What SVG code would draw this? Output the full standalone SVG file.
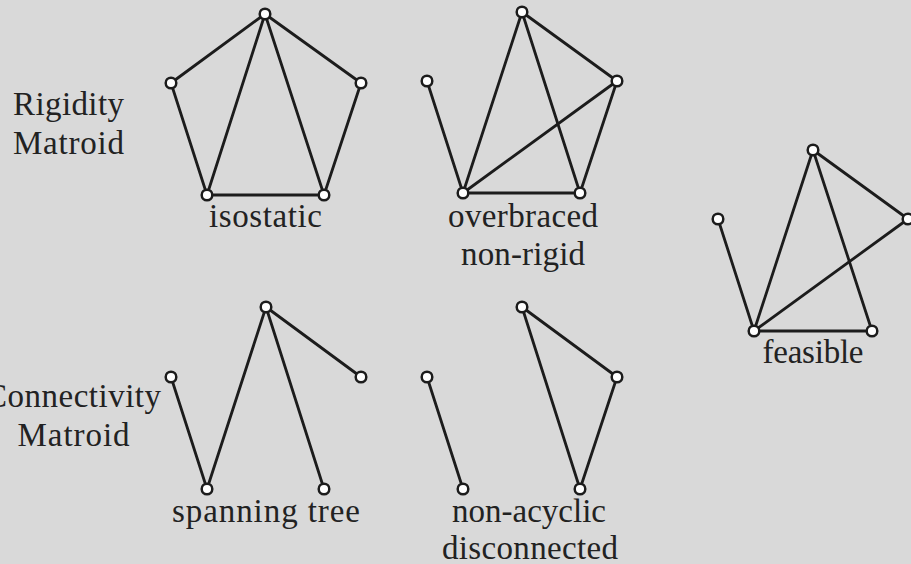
<svg xmlns="http://www.w3.org/2000/svg" width="911" height="564" viewBox="0 0 911 564">
<style>
.e{stroke:#1c1c1c;stroke-width:2.8;fill:none;stroke-linecap:round}
.n{fill:#fff;stroke:#1c1c1c;stroke-width:2.5}
.t{font-family:"Liberation Serif","Times New Roman",serif;font-size:33px;fill:#222;text-anchor:middle}
</style>
<rect width="911" height="564" fill="#d9d9d9"/>
<g id="labels">
<text class="t" x="68.5" y="115" textLength="111">Rigidity</text>
<text class="t" x="68.5" y="154" textLength="111">Matroid</text>
<text class="t" x="73" y="407" textLength="176">Connectivity</text>
<text class="t" x="73.5" y="446" textLength="112">Matroid</text>
</g>
<g id="connectors">
<g id="c1">
<line class="e" x1="265" y1="14" x2="171" y2="83"/>
<line class="e" x1="265" y1="14" x2="361" y2="83"/>
<line class="e" x1="171" y1="83" x2="207" y2="195"/>
<line class="e" x1="361" y1="83" x2="324" y2="195"/>
<line class="e" x1="265" y1="14" x2="207" y2="195"/>
<line class="e" x1="265" y1="14" x2="324" y2="195"/>
<line class="e" x1="207" y1="195" x2="324" y2="195"/>
</g>
<g id="c2">
<line class="e" x1="427" y1="81" x2="463" y2="193"/>
<line class="e" x1="463" y1="193" x2="522" y2="12"/>
<line class="e" x1="522" y1="12" x2="580" y2="193"/>
<line class="e" x1="522" y1="12" x2="617" y2="81"/>
<line class="e" x1="617" y1="81" x2="580" y2="193"/>
<line class="e" x1="463" y1="193" x2="617" y2="81"/>
<line class="e" x1="463" y1="193" x2="580" y2="193"/>
</g>
<g id="c3">
<line class="e" x1="718" y1="219" x2="754" y2="331"/>
<line class="e" x1="754" y1="331" x2="813" y2="150"/>
<line class="e" x1="813" y1="150" x2="872" y2="331"/>
<line class="e" x1="813" y1="150" x2="908" y2="219"/>
<line class="e" x1="754" y1="331" x2="908" y2="219"/>
<line class="e" x1="754" y1="331" x2="872" y2="331"/>
</g>
<g id="c4">
<line class="e" x1="171" y1="377" x2="207" y2="489"/>
<line class="e" x1="207" y1="489" x2="266" y2="307"/>
<line class="e" x1="266" y1="307" x2="324" y2="489"/>
<line class="e" x1="266" y1="307" x2="361" y2="377"/>
</g>
<g id="c5">
<line class="e" x1="427" y1="377" x2="463" y2="489"/>
<line class="e" x1="522" y1="307" x2="580" y2="489"/>
<line class="e" x1="522" y1="307" x2="617" y2="377"/>
<line class="e" x1="617" y1="377" x2="580" y2="489"/>
</g>
</g>
<g id="isostatic">
<circle class="n" cx="265" cy="14" r="5.3"/>
<circle class="n" cx="171" cy="83" r="5.3"/>
<circle class="n" cx="361" cy="83" r="5.3"/>
<circle class="n" cx="207" cy="195" r="5.3"/>
<circle class="n" cx="324" cy="195" r="5.3"/>
<text class="t" x="265.5" y="227" textLength="113">isostatic</text>
</g>
<g id="overbraced">
<circle class="n" cx="522" cy="12" r="5.3"/>
<circle class="n" cx="427" cy="81" r="5.3"/>
<circle class="n" cx="617" cy="81" r="5.3"/>
<circle class="n" cx="463" cy="193" r="5.3"/>
<circle class="n" cx="580" cy="193" r="5.3"/>
<text class="t" x="523" y="227" textLength="150">overbraced</text>
<text class="t" x="523" y="265" textLength="124">non-rigid</text>
</g>
<g id="feasible">
<circle class="n" cx="813" cy="150" r="5.3"/>
<circle class="n" cx="718" cy="219" r="5.3"/>
<circle class="n" cx="908" cy="219" r="5.3"/>
<circle class="n" cx="754" cy="331" r="5.3"/>
<circle class="n" cx="872" cy="331" r="5.3"/>
<text class="t" x="813" y="363" textLength="101">feasible</text>
</g>
<g id="spanning">
<circle class="n" cx="266" cy="307" r="5.3"/>
<circle class="n" cx="171" cy="377" r="5.3"/>
<circle class="n" cx="361" cy="377" r="5.3"/>
<circle class="n" cx="207" cy="489" r="5.3"/>
<circle class="n" cx="324" cy="489" r="5.3"/>
<text class="t" x="266" y="522" textLength="188">spanning tree</text>
</g>
<g id="disconnected">
<circle class="n" cx="522" cy="307" r="5.3"/>
<circle class="n" cx="427" cy="377" r="5.3"/>
<circle class="n" cx="617" cy="377" r="5.3"/>
<circle class="n" cx="463" cy="489" r="5.3"/>
<circle class="n" cx="580" cy="489" r="5.3"/>
<text class="t" x="529" y="522" textLength="154">non-acyclic</text>
<text class="t" x="530" y="559" textLength="176">disconnected</text>
</g>
</svg>
